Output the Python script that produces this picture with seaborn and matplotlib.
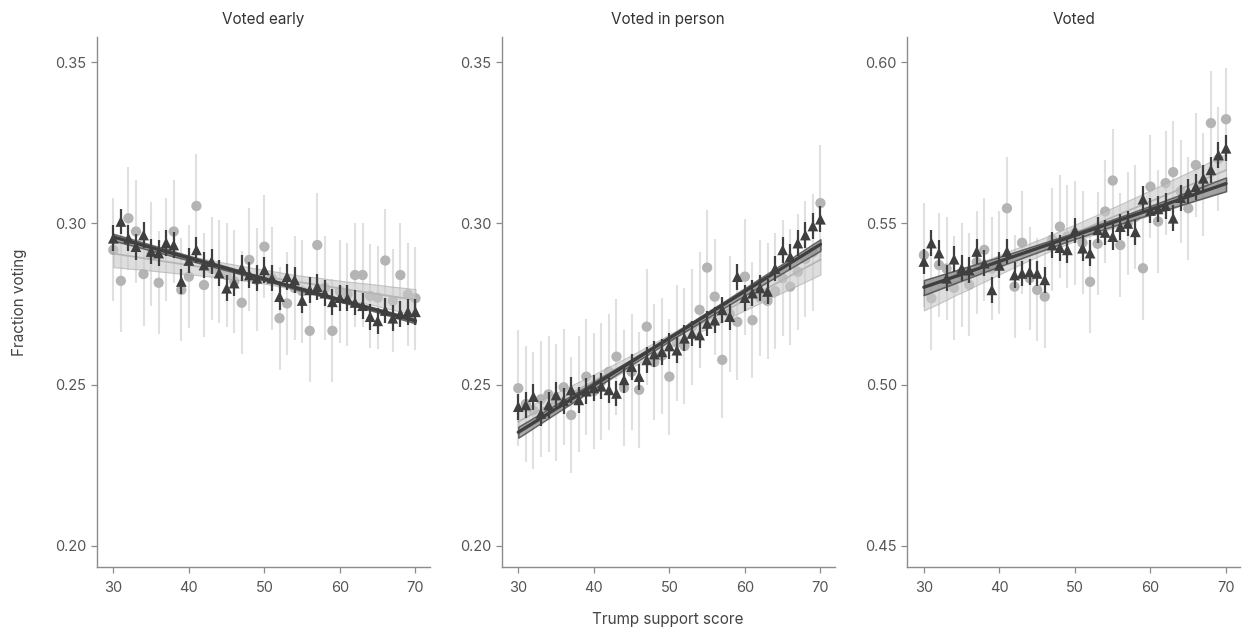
import numpy as np
import pandas as pd
import seaborn as sns
import matplotlib.pyplot as plt

# trump support score bins
xs = list(range(30, 71))

# Voted early
early_dark = [0.2954, 0.3006, 0.2954, 0.2928, 0.2964, 0.2913, 0.2908, 0.2940, 0.2933, 0.2820,
              0.2885, 0.2918, 0.2871, 0.2882, 0.2846, 0.2799, 0.2815, 0.2861, 0.2840, 0.2830,
              0.2856, 0.2830, 0.2773, 0.2835, 0.2825, 0.2761, 0.2794, 0.2804, 0.2784, 0.2757,
              0.2770, 0.2768, 0.2755, 0.2745, 0.2711, 0.2698, 0.2730, 0.2706, 0.2720, 0.2726,
              0.2726]
early_grey = [0.2918, 0.2822, 0.3016, 0.2975, 0.2843, 0.2905, 0.2816, 0.2920, 0.2975, 0.2794,
              0.2835, 0.3054, 0.2809, 0.2860, 0.2850, 0.2840, 0.2820, 0.2754, 0.2887, 0.2825,
              0.2928, 0.2830, 0.2706, 0.2752, 0.2800, 0.2790, 0.2667, 0.2933, 0.2800, 0.2667,
              0.2790, 0.2780, 0.2840, 0.2840, 0.2775, 0.2770, 0.2885, 0.2760, 0.2840, 0.2780,
              0.2768]

# Voted in person
person_dark = [0.2432, 0.2437, 0.2463, 0.2411, 0.2437, 0.2468, 0.2450, 0.2484, 0.2453, 0.2480,
               0.2490, 0.2495, 0.2484, 0.2473, 0.2515, 0.2556, 0.2525, 0.2577, 0.2595, 0.2602,
               0.2620, 0.2607, 0.2644, 0.2659, 0.2654, 0.2690, 0.2700, 0.2732, 0.2711, 0.2835,
               0.2770, 0.2784, 0.2800, 0.2789, 0.2860, 0.2918, 0.2897, 0.2939, 0.2964, 0.2992,
               0.3013]
person_grey = [0.2489, 0.2440, 0.2420, 0.2455, 0.2470, 0.2445, 0.2492, 0.2406, 0.2470, 0.2525,
               0.2480, 0.2510, 0.2540, 0.2587, 0.2490, 0.2540, 0.2484, 0.2680, 0.2570, 0.2590,
               0.2525, 0.2630, 0.2620, 0.2680, 0.2732, 0.2863, 0.2773, 0.2577, 0.2720, 0.2695,
               0.2835, 0.2700, 0.2770, 0.2760, 0.2790, 0.2830, 0.2804, 0.2850, 0.2890, 0.2910,
               0.3063]

# Voted
voted_dark = [0.5382, 0.5439, 0.5408, 0.5330, 0.5389, 0.5361, 0.5355, 0.5413, 0.5377, 0.5294,
              0.5370, 0.5413, 0.5340, 0.5345, 0.5350, 0.5345, 0.5325, 0.5433, 0.5425, 0.5418,
              0.5478, 0.5423, 0.5408, 0.5480, 0.5472, 0.5459, 0.5490, 0.5500, 0.5474, 0.5575,
              0.5540, 0.5545, 0.5555, 0.5516, 0.5580, 0.5599, 0.5614, 0.5640, 0.5666, 0.5712,
              0.5733]
voted_grey = [0.5402, 0.5268, 0.5371, 0.5360, 0.5300, 0.5340, 0.5310, 0.5380, 0.5418, 0.5360,
              0.5380, 0.5547, 0.5304, 0.5440, 0.5330, 0.5294, 0.5273, 0.5450, 0.5490, 0.5460,
              0.5470, 0.5440, 0.5319, 0.5437, 0.5537, 0.5633, 0.5433, 0.5500, 0.5520, 0.5361,
              0.5614, 0.5506, 0.5625, 0.5659, 0.5600, 0.5547, 0.5681, 0.5620, 0.5811, 0.5700,
              0.5823]

titles = ["Voted early", "Voted in person", "Voted"]
grey_err = [0.016, 0.018, 0.016]
dark_err = [0.004, 0.004, 0.004]
ylims = [(0.1934, 0.3578), (0.1934, 0.3578), (0.4434, 0.6078)]
yticks = [[0.20, 0.25, 0.30, 0.35], [0.20, 0.25, 0.30, 0.35], [0.45, 0.50, 0.55, 0.60]]

sns.set_theme(style="ticks")
plt.rcParams['font.family'] = ['Inter', 'DejaVu Sans']

DARK = "#3f3f3f"
GREY = "#b4b4b4"

fig = plt.figure(figsize=(12.43, 6.31), dpi=100)
lefts = [0.0778, 0.4036, 0.7299]
panels = [(early_dark, early_grey), (person_dark, person_grey), (voted_dark, voted_grey)]

for i, (dark, grey) in enumerate(panels):
    ax = fig.add_axes([lefts[i], 0.101, 0.268, 0.8404])
    df = pd.DataFrame({"x": xs, "dark": dark, "grey": grey})

    # error bars + grey points
    ax.errorbar(df["x"], df["grey"], yerr=grey_err[i], fmt="none",
                ecolor="#e0e0e0", elinewidth=1.5, zorder=1)
    sns.scatterplot(data=df, x="x", y="grey", ax=ax, color=GREY, s=55,
                    marker="o", edgecolor="none", zorder=2)

    # grey fit
    sns.regplot(data=df, x="x", y="grey", ax=ax, scatter=False, ci=95, seed=0,
                color="#9a9a9a", line_kws={"lw": 1.3, "zorder": 3})
    band = ax.collections[-1]
    band.set_facecolor("#c8c8c8")
    band.set_alpha(0.6)
    band.set_edgecolor("#a8a8a8")
    band.set_linewidth(0.8)
    band.set_zorder(3)

    # dark fit
    sns.regplot(data=df, x="x", y="dark", ax=ax, scatter=False, ci=75, seed=0,
                color=DARK, line_kws={"lw": 2.4, "zorder": 5})
    band = ax.collections[-1]
    band.set_facecolor("#8a8a8a")
    band.set_alpha(0.7)
    band.set_edgecolor("#3a3a3a")
    band.set_linewidth(1.1)
    band.set_zorder(4)

    ax.errorbar(df["x"], df["dark"], yerr=dark_err[i], fmt="none",
                ecolor=DARK, elinewidth=1.6, zorder=6)
    sns.scatterplot(data=df, x="x", y="dark", ax=ax, color=DARK, s=60,
                    marker="^", edgecolor="none", zorder=7)

    ax.set_xlim(27.8, 71.9)
    ax.set_ylim(*ylims[i])
    ax.set_xticks([30, 40, 50, 60, 70])
    ax.set_yticks(yticks[i])
    ax.set_yticklabels([f"{t:.2f}" for t in yticks[i]])
    ax.set_xlabel("")
    ax.set_ylabel("")
    ax.set_title(titles[i], fontsize=11, color="#333333", pad=9)
    sns.despine(ax=ax)
    for s in ["left", "bottom"]:
        ax.spines[s].set_color("#8c8c8c")
        ax.spines[s].set_linewidth(1.0)
    ax.tick_params(colors="#8c8c8c", labelcolor="#555555", labelsize=10.5,
                   length=4, width=0.9)
    ax.tick_params(axis="x", pad=6)

fig.text(0.016, 0.521, "Fraction voting", rotation=90, ha="center", va="center",
         fontsize=11, color="#444444")
fig.text(0.537, 0.019, "Trump support score", ha="center", va="center",
         fontsize=11, color="#444444")

fig.savefig("out.png", dpi=100)
